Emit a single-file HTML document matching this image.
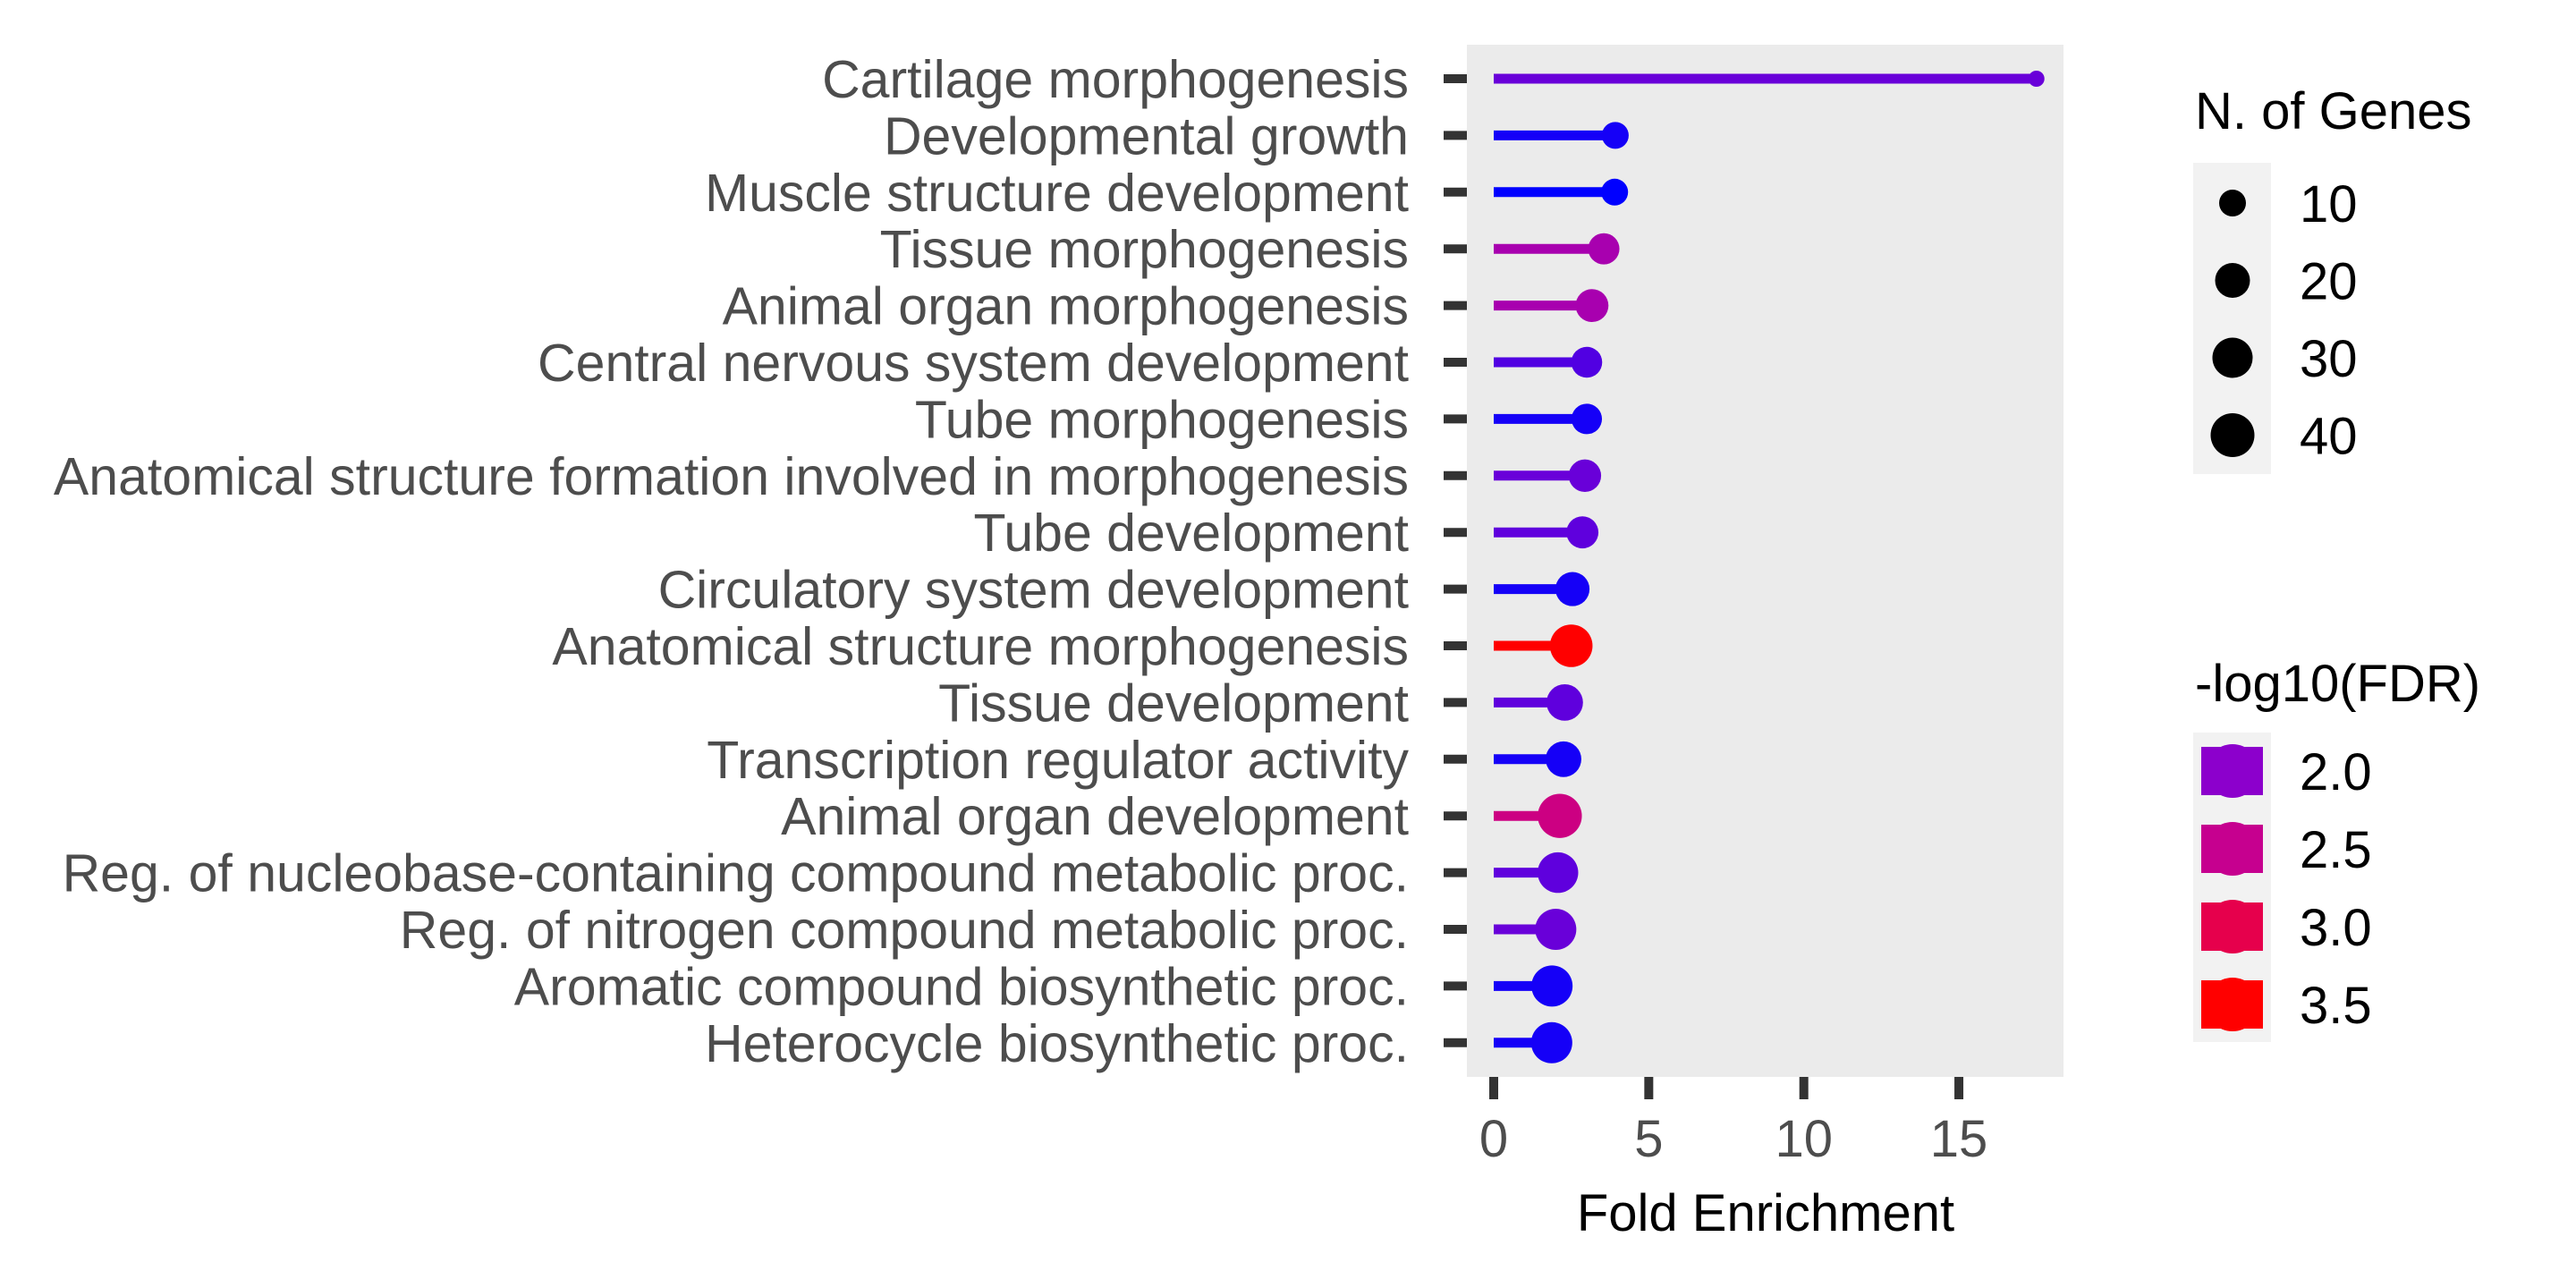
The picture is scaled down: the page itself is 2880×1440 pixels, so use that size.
<!DOCTYPE html>
<html><head><meta charset="utf-8"><style>
html,body{margin:0;padding:0;background:#fff}
svg{display:block}
text{font-family:"Liberation Sans",Arial,sans-serif}
</style></head><body>
<svg id="chart" width="2880" height="1440" viewBox="0 0 2880 1440" xmlns="http://www.w3.org/2000/svg">
<rect x="0" y="0" width="2880" height="1440" fill="#fff"/>
<rect x="1640" y="50" width="667" height="1154" fill="#ebebeb"/>
<g id="marks"></g>
<g id="yaxis"></g>
<g id="xaxis"></g>
<text x="1974" y="1376" font-size="58" text-anchor="middle" fill="#000">Fold Enrichment</text>
<g>
  <text x="2454" y="144" font-size="58" fill="#000">N. of Genes</text>
  <rect x="2452" y="182" width="87" height="348" fill="#f2f2f2"/>
  <g id="sizeLegend"></g>
</g>
<g>
  <text x="2454" y="784" font-size="58" fill="#000">-log10(FDR)</text>
  <rect x="2452" y="819" width="87" height="346" fill="#f2f2f2"/>
  <g id="colorLegend"></g>
</g>
</svg>
<script>
const categories = ["Cartilage morphogenesis","Developmental growth","Muscle structure development","Tissue morphogenesis","Animal organ morphogenesis","Central nervous system development","Tube morphogenesis","Anatomical structure formation involved in morphogenesis","Tube development","Circulatory system development","Anatomical structure morphogenesis","Tissue development","Transcription regulator activity","Animal organ development","Reg. of nucleobase-containing compound metabolic proc.","Reg. of nitrogen compound metabolic proc.","Aromatic compound biosynthetic proc.","Heterocycle biosynthetic proc."];
const foldEnrichment = [17.5,3.92,3.9,3.55,3.17,3.0,3.0,2.94,2.86,2.54,2.5,2.29,2.25,2.13,2.07,2.0,1.88,1.87];
const nGenes = [2,10,10,15.5,17.5,15,14.5,17,16.5,19,36.5,23,21.5,41,31,32.5,32.5,32.5];
const negLogFDR = [1.9,1.66,1.6,2.24,2.24,1.83,1.66,1.9,1.87,1.66,3.6,1.87,1.66,2.6,1.87,1.9,1.66,1.66];
const xTicks = [0,5,10,15];
const sizeLegendValues = [10,20,30,40];
const colorLegendValues = [2.0,2.5,3.0,3.5];

const NS="http://www.w3.org/2000/svg";
function mk(tag,attrs,parent){const e=document.createElementNS(NS,tag);for(const k in attrs)e.setAttribute(k,attrs[k]);parent.appendChild(e);return e;}
const xScale = v => 1670 + v*34.67;
const yScale = i => 88 + i*63.4;
const sizeStops=[[0,6],[2,9],[10,15],[20,19.5],[30,22.5],[40,24.5],[60,28]];
function rScale(n){for(let i=1;i<sizeStops.length;i++){const a=sizeStops[i-1],b=sizeStops[i];if(n<=b[0]){const t=(n-a[0])/(b[0]-a[0]);return a[1]+t*(b[1]-a[1]);}}return 28;}
const colStops=[[1.6,[0,0,255]],[2.0,[140,0,204]],[2.5,[198,0,143]],[3.0,[230,0,76]],[3.5,[255,0,0]]];
function cScale(v){if(v<=colStops[0][0])return 'rgb(0,0,255)';for(let i=1;i<colStops.length;i++){const a=colStops[i-1],b=colStops[i];if(v<=b[0]){const t=(v-a[0])/(b[0]-a[0]);const c=a[1].map((x,j)=>Math.round(x+t*(b[1][j]-x)));return 'rgb('+c.join(',')+')';}}return 'rgb(255,0,0)';}

const marks=document.getElementById('marks'),yaxis=document.getElementById('yaxis'),xaxis=document.getElementById('xaxis');
categories.forEach((c,i)=>{
  const y=yScale(i), col=cScale(negLogFDR[i]);
  const ln=mk('line',{x1:xScale(0),x2:xScale(foldEnrichment[i]),y1:y,y2:y,stroke:col,'stroke-width':11},marks);
  
  
  const pt=mk('circle',{cx:xScale(foldEnrichment[i]),cy:y,r:rScale(nGenes[i]),fill:col},marks);
  
  
  const tk=mk('line',{x1:1614,x2:1640,y1:y,y2:y,stroke:'#333','stroke-width':10},yaxis);
  
  
  const tx=mk('text',{x:1575,y:y+21,'font-size':59,'text-anchor':'end',fill:'#4d4d4d'},yaxis);
  tx.textContent=c;
  
  
});
xTicks.forEach(v=>{
  const tk=mk('line',{x1:xScale(v),x2:xScale(v),y1:1204,y2:1229,stroke:'#333','stroke-width':10},xaxis);
  
  
  const tx=mk('text',{x:xScale(v),y:1293,'font-size':58,'text-anchor':'middle',fill:'#4d4d4d'},xaxis);
  tx.textContent=v;
  
  
});
const sl=document.getElementById('sizeLegend');
sizeLegendValues.forEach((v,i)=>{
  const y=227+i*86.5;
  const c=mk('circle',{cx:2496,cy:y,r:rScale(v),fill:'#000'},sl);
  
  
  const t=mk('text',{x:2571,y:y+21,'font-size':58,fill:'#000'},sl);
  t.textContent=v;
  
  
});
const cl=document.getElementById('colorLegend');
colorLegendValues.forEach((v,i)=>{
  const y=862+i*87;
  const col=cScale(v);
  const r=mk('rect',{x:2461,y:y-27,width:69,height:54,fill:col},cl);
  
  
  const c=mk('circle',{cx:2496,cy:y,r:30,fill:col},cl);
  
  
  const t=mk('text',{x:2571,y:y+21,'font-size':58,fill:'#000'},cl);
  t.textContent=v.toFixed(1);
  
  
});
</script>
</body></html>
